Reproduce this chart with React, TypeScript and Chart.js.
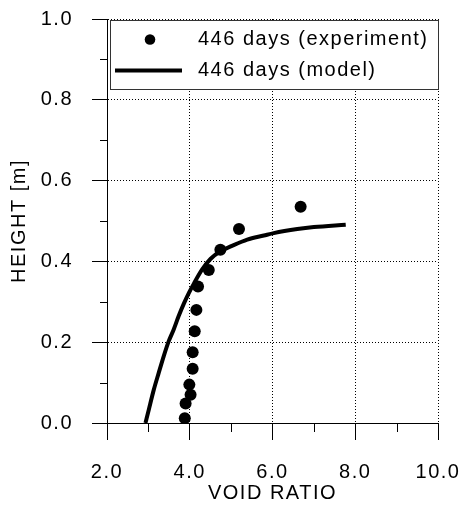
import React, { useEffect, useRef } from 'react';
import { Chart, registerables } from 'chart.js';

Chart.register(...registerables);

const FONT = "'Liberation Sans', Arial, Helvetica, sans-serif";

const expLabel = '446 days (experiment)';
const modelLabel = '446 days (model)';
const xTitle = 'VOID RATIO';
const yTitle = 'HEIGHT [m]';

// experiment points (void ratio, height)
const expVoid = [6.68, 5.19, 4.74, 4.46, 4.20, 4.16, 4.12, 4.07, 4.07, 3.99, 4.02, 3.90, 3.88];
const expHeight = [0.535, 0.480, 0.429, 0.379, 0.338, 0.280, 0.227, 0.175, 0.134, 0.095, 0.070, 0.048, 0.012];

// model curve (void ratio, height)
const modelVoid = [2.93, 3.01, 3.13, 3.25, 3.37, 3.49, 3.61, 3.73, 3.86, 3.98, 4.10, 4.30, 4.50, 4.74, 4.99, 5.39, 5.79, 6.03, 6.60, 7.00, 7.77];
const modelHeight = [0.000, 0.033, 0.082, 0.124, 0.165, 0.202, 0.231, 0.264, 0.296, 0.322, 0.345, 0.380, 0.406, 0.425, 0.437, 0.454, 0.464, 0.470, 0.480, 0.485, 0.491];

const xMin = 2, xMax = 10, xStep = 2;
const yMin = 0, yMax = 1, yStep = 0.2;

const spacingPlugin = {
  id: 'spacing',
  beforeInit(chart: any) { (chart.ctx as any).letterSpacing = '1.5px'; },
  beforeLayout(chart: any) { (chart.ctx as any).letterSpacing = '1.5px'; },
  beforeDraw(chart: any) { (chart.ctx as any).letterSpacing = '1.5px'; },
};

const minorTicksPlugin = {
  id: 'minorTicks',
  afterDraw(chart: any) {
    const { ctx } = chart;
    const x = chart.scales.x;
    const y = chart.scales.y;
    ctx.save();
    ctx.strokeStyle = '#000';
    ctx.lineWidth = 1;
    ctx.setLineDash([]);
    const xt = x.ticks.map((t: any) => t.value);
    for (let i = 0; i < xt.length - 1; i++) {
      const px = Math.round(x.getPixelForValue((xt[i] + xt[i + 1]) / 2)) + 0.5;
      ctx.beginPath();
      ctx.moveTo(px, x.top);
      ctx.lineTo(px, x.top + 9);
      ctx.stroke();
    }
    const yt = y.ticks.map((t: any) => t.value);
    for (let i = 0; i < yt.length - 1; i++) {
      const py = Math.round(y.getPixelForValue((yt[i] + yt[i + 1]) / 2)) + 0.5;
      ctx.beginPath();
      ctx.moveTo(y.right - 7, py);
      ctx.lineTo(y.right, py);
      ctx.stroke();
    }
    ctx.restore();
  },
};

const legendPlugin = {
  id: 'boxLegend',
  afterDraw(chart: any) {
    const { ctx, chartArea: ca } = chart;
    const ds = chart.data.datasets;
    ctx.save();
    const bx = ca.left + 3.5;
    const by = ca.top + 1.5;
    const bw = ca.right - ca.left - 3;
    const bh = 69;
    ctx.fillStyle = '#fff';
    ctx.fillRect(bx, by, bw, bh);
    ctx.strokeStyle = '#333';
    ctx.lineWidth = 1;
    ctx.setLineDash([]);
    ctx.strokeRect(bx, by, bw, bh);

    ctx.fillStyle = '#000';
    ctx.beginPath();
    ctx.arc(ca.left + 43, ca.top + 20.5, 5.3, 0, Math.PI * 2);
    ctx.fill();
    ctx.strokeStyle = '#000';
    ctx.lineWidth = 4;
    ctx.beginPath();
    ctx.moveTo(ca.left + 8, ca.top + 51.5);
    ctx.lineTo(ca.left + 75, ca.top + 51.5);
    ctx.stroke();

    (ctx as any).letterSpacing = '1.5px';
    ctx.font = `20px ${FONT}`;
    ctx.textAlign = 'left';
    ctx.textBaseline = 'middle';
    ctx.fillStyle = '#000';
    ctx.fillText(ds[0].label, ca.left + 91, ca.top + 20);
    ctx.fillText(ds[1].label, ca.left + 91, ca.top + 51.5);
    ctx.restore();
  },
};

export default function App() {
  const ref = useRef<HTMLCanvasElement | null>(null);

  useEffect(() => {
    if (!ref.current) return;
    const tickFont = { family: FONT, size: 20 };
    const chart = new Chart(ref.current, {
      type: 'scatter',
      data: {
        datasets: [
          {
            label: expLabel,
            data: expVoid.map((v, i) => ({ x: v, y: expHeight[i] })),
            pointRadius: 6,
            pointHoverRadius: 6,
            pointBackgroundColor: '#000',
            pointBorderColor: '#000',
            pointBorderWidth: 0,
            showLine: false,
          },
          {
            label: modelLabel,
            data: modelVoid.map((v, i) => ({ x: v, y: modelHeight[i] })),
            showLine: true,
            borderColor: '#000',
            borderWidth: 4,
            pointRadius: 0,
            pointHoverRadius: 0,
            cubicInterpolationMode: 'monotone',
            fill: false,
          },
        ],
      } as any,
      options: {
        animation: false,
        responsive: false,
        devicePixelRatio: 1,
        events: [],
        layout: { padding: { top: 19, right: 24, left: 0, bottom: 0 } },
        plugins: { legend: { display: false }, tooltip: { enabled: false } },
        scales: {
          x: {
            type: 'linear',
            min: xMin,
            max: xMax,
            afterFit: (s: any) => { s.height = 84; s.paddingLeft = 0; s.paddingRight = 0; },
            ticks: {
              stepSize: xStep,
              color: '#000',
              font: tickFont,
              padding: 20,
              maxRotation: 0,
              callback: (v: any) => Number(v).toFixed(1),
            },
            grid: {
              color: '#000',
              lineWidth: 1,
              tickLength: 17,
              tickColor: '#000',
              tickBorderDash: [],
            } as any,
            border: { display: true, color: '#000', width: 1, dash: [1, 2] },
            title: {
              display: true,
              text: xTitle,
              color: '#000',
              font: tickFont,
              padding: { top: 0, bottom: 2 },
            },
          },
          y: {
            type: 'linear',
            min: yMin,
            max: yMax,
            afterFit: (s: any) => { s.width = 107; s.paddingTop = 0; s.paddingBottom = 0; },
            ticks: {
              stepSize: yStep,
              color: '#000',
              font: tickFont,
              padding: 19,
              callback: (v: any) => Number(v).toFixed(1),
            },
            grid: {
              color: '#000',
              lineWidth: 1,
              tickLength: 15,
              tickColor: '#000',
              tickBorderDash: [],
            } as any,
            border: { display: true, color: '#000', width: 1, dash: [1, 2] },
            title: {
              display: true,
              text: yTitle,
              color: '#000',
              font: tickFont,
              padding: { top: 7, bottom: 0 },
            },
          },
        },
      } as any,
      plugins: [spacingPlugin, minorTicksPlugin, legendPlugin],
    });
    return () => chart.destroy();
  }, []);

  return (
    <div style={{ position: 'absolute', left: 0, top: 0, width: 462, height: 507, background: '#fff' }}>
      <canvas ref={ref} width={462} height={507} style={{ display: 'block', width: 462, height: 507 }} />
    </div>
  );
}
